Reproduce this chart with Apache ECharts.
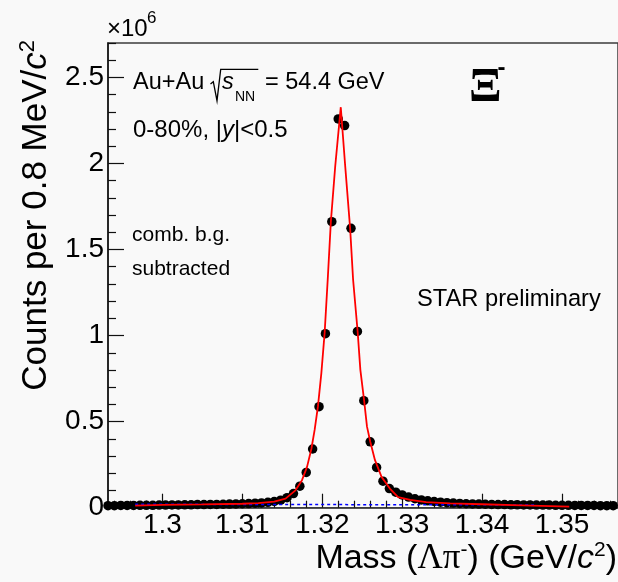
<!DOCTYPE html>
<html><head><meta charset="utf-8">
<script src="https://cdn.jsdelivr.net/npm/echarts@6/dist/echarts.min.js"></script>
<style>html,body{margin:0;padding:0;background:#f9f9f9}#c{width:618px;height:582px}</style>
</head><body><div id="c"></div>
<script>
// ---- data (counts in units of 1e6) ----
const massBins = [
  1.2932,1.2940,1.2948,1.2956,1.2964,1.2972,1.2980,1.2988,1.2996,1.3004,
  1.3012,1.3020,1.3028,1.3036,1.3044,1.3052,1.3060,1.3068,1.3076,1.3084,
  1.3092,1.3100,1.3108,1.3116,1.3124,1.3132,1.3140,1.3148,1.3156,1.3164,
  1.3172,1.3180,1.3188,1.3196,1.3204,1.3212,1.3220,1.3228,1.3236,1.3244,
  1.3252,1.3260,1.3268,1.3276,1.3284,1.3292,1.3300,1.3308,1.3316,1.3324,
  1.3332,1.3340,1.3348,1.3356,1.3364,1.3372,1.3380,1.3388,1.3396,1.3404,
  1.3412,1.3420,1.3428,1.3436,1.3444,1.3452,1.3460,1.3468,1.3476,1.3484,
  1.3492,1.3500,1.3508,1.3516,1.3524,1.3532,1.3540,1.3548,1.3556,1.3564
];
const counts = [
  0.012,0.012,0.013,0.013,0.013,0.014,0.014,0.014,0.015,0.015,
  0.016,0.016,0.017,0.017,0.018,0.018,0.019,0.019,0.020,0.021,
  0.022,0.023,0.024,0.026,0.028,0.031,0.036,0.044,0.058,0.082,
  0.125,0.205,0.341,0.587,1.011,1.662,2.259,2.220,1.623,1.024,
  0.622,0.383,0.234,0.154,0.111,0.090,0.074,0.062,0.052,0.045,
  0.040,0.036,0.032,0.029,0.027,0.025,0.023,0.022,0.021,0.020,
  0.019,0.018,0.018,0.017,0.017,0.016,0.016,0.015,0.015,0.015,
  0.014,0.014,0.014,0.013,0.013,0.013,0.013,0.012,0.012,0.012
];
const fitMass = [
  1.2966,1.3000,1.3050,1.3100,1.3120,1.3140,1.31541,1.31665,1.31747,1.31810,
  1.31864,1.31905,1.31946,1.31989,1.32030,1.32071,1.32108,1.32163,1.32232,
  1.32287,1.32349,1.32386,1.32443,1.32477,1.32523,1.32560,1.32601,1.32660,
  1.32742,1.32846,1.32949,1.3310,1.3330,1.3360,1.3400,1.3450,1.3509
];
const fitCounts = [
  0.012,0.016,0.019,0.023,0.027,0.035,0.053,0.101,0.160,0.237,
  0.341,0.452,0.587,0.782,1.015,1.345,1.662,1.987,2.327,
  1.987,1.623,1.326,1.024,0.801,0.626,0.471,0.383,0.276,
  0.179,0.111,0.062,0.045,0.032,0.025,0.020,0.014,0.006
];
const bgMass = [1.2966, 1.3465];
const bgCounts = [0.020, 0.016];
const xMajorTicks = [1.30,1.31,1.32,1.33,1.34,1.35];
const xMinorTicks = [1.294,1.296,1.298,1.302,1.304,1.306,1.308,1.312,1.314,1.316,1.318,
  1.322,1.324,1.326,1.328,1.332,1.334,1.336,1.338,1.342,1.344,1.346,1.348,1.352,1.354,1.356];
const yMajorTicks = [0,0.5,1,1.5,2,2.5];
const yMinorTicks = [0.1,0.2,0.3,0.4,0.6,0.7,0.8,0.9,1.1,1.2,1.3,1.4,1.6,1.7,1.8,1.9,
  2.1,2.2,2.3,2.4,2.6,2.7];

// ---- chart ----
const FONT = '"Liberation Sans", Arial, Helvetica, sans-serif';
const SERIF = '"Liberation Serif", "Times New Roman", serif';
const zip = (a, b) => a.map((v, i) => [v, b[i]]);
const chart = echarts.init(document.getElementById('c'), null, {renderer: 'canvas'});

function txt(text, x, y, size, extra) {
  return Object.assign({
    type: 'text', x: x, y: y, silent: true,
    style: Object.assign({text: text, x: 0, y: 0, fill: '#000',
      fontFamily: FONT, fontSize: size,
      align: 'left', textAlign: 'left', verticalAlign: 'middle', textVerticalAlign: 'middle'}, extra || {})
  });
}

const XMIN = 1.2932, XMAX = 1.357, YMIN = 0, YMAX = 2.7;
const tickColor = '#111';

const option = {
  animation: false,
  backgroundColor: '#f9f9f9',
  grid: {left: 108, right: -4, top: 43, bottom: 74.3, show: true,
    borderColor: '#3c3c3c', borderWidth: 1.5, backgroundColor: 'transparent', containLabel: false},
  xAxis: [
    {type: 'value', min: XMIN, max: XMAX, position: 'bottom',
      axisLine: {show: true, onZero: false, lineStyle: {color: '#3c3c3c', width: 1.5}},
      axisTick: {show: true, inside: true, length: 14, customValues: xMajorTicks, lineStyle: {color: tickColor, width: 1.2}},
      axisLabel: {show: true, customValues: xMajorTicks, fontSize: 28, color: '#000', fontFamily: FONT, margin: 4},
      splitLine: {show: false}},
    {type: 'value', min: XMIN, max: XMAX, position: 'bottom', offset: 0,
      axisLine: {show: false},
      axisTick: {show: true, inside: true, length: 7, customValues: xMinorTicks, lineStyle: {color: tickColor, width: 1.2}},
      axisLabel: {show: false}, splitLine: {show: false}}
  ],
  yAxis: [
    {type: 'value', min: YMIN, max: YMAX, position: 'left',
      axisLine: {show: true, onZero: false, lineStyle: {color: '#111', width: 1.5}},
      axisTick: {show: true, inside: true, length: 16, customValues: yMajorTicks, lineStyle: {color: tickColor, width: 1.2}},
      axisLabel: {show: true, customValues: yMajorTicks, fontSize: 28, color: '#000', fontFamily: FONT, margin: 4},
      splitLine: {show: false}},
    {type: 'value', min: YMIN, max: YMAX, position: 'left', offset: 0,
      axisLine: {show: false},
      axisTick: {show: true, inside: true, length: 8, customValues: yMinorTicks, lineStyle: {color: tickColor, width: 1.2}},
      axisLabel: {show: false}, splitLine: {show: false}}
  ],
  series: [
    {type: 'scatter', xAxisIndex: 0, yAxisIndex: 0, data: zip(massBins, counts),
      symbol: 'circle', symbolSize: 9.5, itemStyle: {color: '#000', opacity: 1}, z: 2, silent: true},
    {type: 'line', xAxisIndex: 0, yAxisIndex: 0, data: zip(bgMass, bgCounts),
      showSymbol: false, lineStyle: {color: '#0000ff', width: 1.5, type: [3, 3]}, z: 3, silent: true},
    {type: 'line', xAxisIndex: 0, yAxisIndex: 0, data: zip(fitMass, fitCounts),
      showSymbol: false, smooth: false, lineStyle: {color: '#ff0000', width: 1.8}, z: 4, silent: true}
  ],
  graphic: [
    // exponent
    txt('\u00d710', 107, 29.5, 24),
    txt('6', 147, 18.5, 17),
    // Au+Au sqrt(sNN) = 54.4 GeV
    txt('Au+Au', 133, 82.8, 23.5),
    {type: 'polyline', silent: true, shape: {points: [[210.5, 84], [213.3, 81.7], [217, 100.7], [220.7, 69.3], [258.3, 69.3]]},
      style: {stroke: '#000', lineWidth: 1.3, fill: null}},
    txt('s', 222, 82.8, 23.5, {fontStyle: 'italic'}),
    txt('NN', 235, 96.7, 14),
    txt('= 54.4 GeV', 265, 82.8, 23.5),
    // centrality line
    txt('', 133, 130, 24, {text: '{r|0-80%, |}{i|y}{r||<0.5}',
      rich: {r: {fontSize: 24, fontFamily: FONT, fill: '#000'}, i: {fontSize: 24, fontFamily: FONT, fontStyle: 'italic', fill: '#000'}}}),
    // particle
    txt('\u039e', 469, 89, 48, {fontFamily: SERIF, fontWeight: 'bold'}),
    txt('-', 497.5, 68.3, 24, {fontWeight: 'bold'}),
    // notes
    txt('comb. b.g.', 132, 235.5, 21),
    txt('subtracted', 132, 269.5, 21),
    txt('STAR preliminary', 417, 299, 23.7),
    // axis titles
    {type: 'text', silent: true, x: 36.5, y: 40, rotation: Math.PI / 2,
      style: {x: 0, y: 0, text: '{n|Counts per 0.8 MeV/}{i|c}{s|2}',
        align: 'right', textAlign: 'right', verticalAlign: 'middle', textVerticalAlign: 'middle',
        rich: {n: {fontSize: 35, fontFamily: FONT, fill: '#000'},
               i: {fontSize: 35, fontFamily: FONT, fontStyle: 'italic', fill: '#000'},
               s: {fontSize: 22, fontFamily: FONT, fill: '#000', padding: [0, 0, 18, 0]}}}},
    {type: 'text', silent: true, x: 617, y: 558.5,
      style: {x: 0, y: 0, text: '{n|Mass (}{g|\u039b\u03c0}{s|-}{n|) (GeV/}{i|c}{s|2}{n|)}',
        align: 'right', textAlign: 'right', verticalAlign: 'middle', textVerticalAlign: 'middle',
        rich: {n: {fontSize: 34, fontFamily: FONT, fill: '#000'},
               g: {fontSize: 35, fontFamily: SERIF, fill: '#000'},
               i: {fontSize: 34, fontFamily: FONT, fontStyle: 'italic', fill: '#000'},
               s: {fontSize: 21, fontFamily: FONT, fill: '#000', padding: [0, 0, 17, 0]}}}}
  ]
};
chart.setOption(option);
</script>
</body></html>
